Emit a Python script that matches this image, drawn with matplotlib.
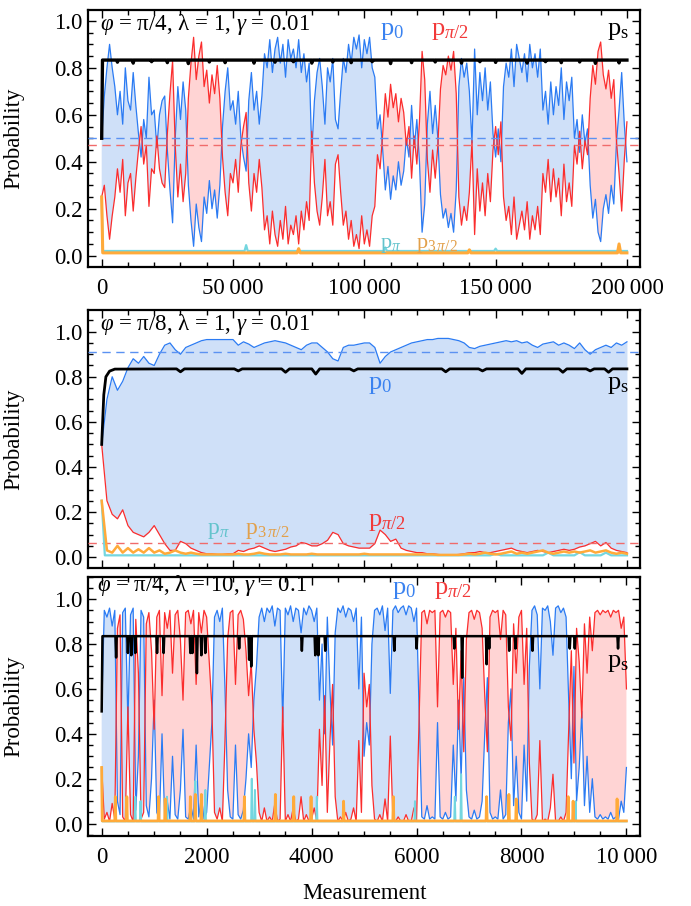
import numpy as np
import matplotlib
matplotlib.use("Agg")
import matplotlib.pyplot as plt
from matplotlib.ticker import MultipleLocator, FuncFormatter

plt.rcParams['font.family'] = ['Liberation Serif', 'DejaVu Serif']
plt.rcParams['mathtext.fontset'] = 'custom'
plt.rcParams['mathtext.rm'] = 'Liberation Serif'
plt.rcParams['mathtext.it'] = 'Liberation Serif:italic'
plt.rcParams['mathtext.bf'] = 'Liberation Serif:bold'

# ---------------- DATA ----------------
# Panel 1: phi=pi/4, lambda=1, gamma=0.01 ; samples every 1000 measurements
p1_step = 1000
p1_p0 = [0.50,0.68,0.80,0.90,0.80,0.72,0.60,0.70,0.56,0.80,0.66,0.62,0.78,0.64,0.52,0.42,0.58,0.50,0.76,0.60,
         0.62,0.46,0.60,0.66,0.68,0.45,0.28,0.14,0.50,0.72,0.58,0.74,0.62,0.30,0.15,0.04,0.22,0.12,0.06,0.25,
         0.18,0.32,0.20,0.28,0.16,0.30,0.55,0.70,0.80,0.62,0.66,0.56,0.70,0.50,0.42,0.36,0.66,0.78,0.62,0.70,
         0.56,0.68,0.86,0.80,0.92,0.78,0.88,0.93,0.82,0.90,0.76,0.92,0.84,0.88,0.80,0.92,0.78,0.86,0.74,0.82,
         0.44,0.66,0.78,0.84,0.72,0.56,0.80,0.74,0.84,0.58,0.54,0.70,0.84,0.78,0.90,0.82,0.93,0.88,0.94,0.80,
         0.92,0.86,0.93,0.80,0.76,0.54,0.60,0.45,0.28,0.38,0.24,0.34,0.28,0.40,0.30,0.36,0.50,0.42,0.64,0.46,
         0.58,0.40,0.10,0.22,0.56,0.70,0.52,0.64,0.50,0.26,0.16,0.20,0.12,0.18,0.10,0.28,0.72,0.84,0.76,0.82,
         0.70,0.48,0.88,0.60,0.78,0.66,0.80,0.62,0.74,0.52,0.42,0.54,0.40,0.72,0.82,0.76,0.88,0.72,0.90,0.84,
         0.78,0.86,0.74,0.90,0.80,0.86,0.76,0.88,0.62,0.70,0.56,0.74,0.60,0.72,0.64,0.80,0.58,0.74,0.66,0.76,
         0.50,0.58,0.44,0.60,0.48,0.54,0.30,0.16,0.24,0.10,0.06,0.20,0.26,0.18,0.30,0.22,0.48,0.62,0.78,0.56,
         0.40]
p1_ph = [0.25,0.30,0.17,0.07,0.17,0.25,0.37,0.27,0.41,0.17,0.31,0.35,0.19,0.33,0.45,0.55,0.39,0.47,0.21,0.37,
         0.35,0.51,0.37,0.31,0.29,0.52,0.69,0.83,0.47,0.25,0.39,0.23,0.35,0.67,0.82,0.93,0.75,0.85,0.91,0.72,
         0.79,0.65,0.77,0.69,0.81,0.67,0.42,0.27,0.17,0.35,0.31,0.41,0.27,0.47,0.55,0.61,0.31,0.19,0.35,0.27,
         0.41,0.29,0.11,0.17,0.05,0.19,0.09,0.04,0.15,0.07,0.21,0.05,0.13,0.09,0.17,0.05,0.19,0.11,0.23,0.15,
         0.53,0.31,0.19,0.13,0.25,0.41,0.17,0.23,0.13,0.39,0.43,0.27,0.13,0.19,0.07,0.15,0.04,0.09,0.03,0.17,
         0.05,0.11,0.04,0.17,0.21,0.43,0.37,0.52,0.69,0.59,0.73,0.63,0.69,0.57,0.67,0.61,0.47,0.55,0.33,0.51,
         0.39,0.57,0.87,0.75,0.41,0.27,0.45,0.33,0.47,0.71,0.81,0.77,0.85,0.79,0.87,0.69,0.25,0.13,0.21,0.15,
         0.27,0.49,0.09,0.37,0.19,0.31,0.17,0.35,0.23,0.45,0.55,0.43,0.57,0.25,0.15,0.21,0.09,0.25,0.07,0.13,
         0.19,0.11,0.23,0.07,0.17,0.11,0.21,0.09,0.35,0.27,0.41,0.23,0.37,0.25,0.33,0.17,0.39,0.23,0.31,0.21,
         0.47,0.39,0.53,0.37,0.49,0.43,0.67,0.81,0.73,0.87,0.91,0.77,0.71,0.79,0.67,0.75,0.49,0.35,0.19,0.41,
         0.57]
p1_ps_start_x = [0, 300]
p1_ps_start_y = [0.50, 0.833]
p1_ps_level = 0.833
p1_ps_dip_x = [6000, 12000, 19000, 25000, 33000, 41000, 47000, 58000, 66000, 73000, 80000, 88000,
               95000, 103000, 110000, 118000, 127000, 137000, 144000, 150000, 162000, 169000,
               175000, 182000, 188000, 197000]
p1_ps_dip_y = [0.824, 0.820, 0.826, 0.822, 0.818, 0.825, 0.822, 0.820, 0.824, 0.826, 0.820, 0.825,
               0.822, 0.826, 0.818, 0.822, 0.825, 0.820, 0.826, 0.823, 0.820, 0.826,
               0.822, 0.825, 0.819, 0.821]
p1_cy_start_y = [0.25, 0.020]
p1_cy_level = 0.020
p1_cy_sx = [55000, 108000, 150000, 197000]
p1_cy_sy = [0.045, 0.035, 0.030, 0.030]
p1_or_start_y = [0.25, 0.012]
p1_or_level = 0.012
p1_or_sx = [75000, 140000, 197000]
p1_or_sy = [0.030, 0.025, 0.050]
p1_mean_p0 = 0.50
p1_mean_ph = 0.47

# Panel 2: phi=pi/8, lambda=1, gamma=0.01 ; samples every 2000 measurements
p2_step = 2000
p2_p0 = [0.50,0.70,0.80,0.74,0.78,0.84,0.88,0.86,0.89,0.86,0.85,
         0.90,0.94,0.95,0.92,0.90,0.93,0.94,0.95,0.96,0.965,
         0.965,0.965,0.965,0.965,0.965,0.94,0.955,0.945,0.93,0.94,
         0.95,0.955,0.96,0.955,0.95,0.94,0.93,0.92,0.94,0.95,
         0.95,0.93,0.91,0.88,0.87,0.93,0.94,0.94,0.945,0.95,
         0.95,0.93,0.86,0.89,0.91,0.92,0.93,0.94,0.95,0.955,
         0.96,0.965,0.965,0.97,0.97,0.97,0.965,0.96,0.95,0.93,
         0.925,0.935,0.94,0.945,0.95,0.955,0.96,0.955,0.96,0.95,
         0.955,0.94,0.93,0.945,0.95,0.955,0.94,0.95,0.94,0.925,
         0.95,0.92,0.90,0.92,0.93,0.94,0.93,0.95,0.94,0.955]
p2_ph = [0.50,0.25,0.19,0.17,0.21,0.14,0.11,0.10,0.09,0.11,0.14,
         0.10,0.06,0.03,0.03,0.07,0.06,0.04,0.03,0.02,0.015,
         0.015,0.012,0.012,0.015,0.015,0.03,0.025,0.035,0.04,0.05,
         0.04,0.03,0.025,0.03,0.035,0.045,0.05,0.065,0.06,0.05,
         0.05,0.06,0.075,0.11,0.10,0.06,0.05,0.045,0.04,0.04,
         0.04,0.06,0.12,0.10,0.07,0.08,0.04,0.03,0.025,0.02,
         0.02,0.015,0.015,0.012,0.01,0.01,0.01,0.012,0.015,0.02,
         0.02,0.025,0.02,0.02,0.025,0.03,0.035,0.04,0.03,0.025,
         0.02,0.025,0.03,0.025,0.02,0.025,0.03,0.035,0.03,0.035,
         0.045,0.05,0.06,0.07,0.05,0.065,0.04,0.03,0.025,0.02]
p2_or = [0.25,0.03,0.02,0.05,0.02,0.04,0.02,0.035,0.02,0.04,0.02,
         0.03,0.015,0.02,0.03,0.02,0.015,0.02,0.015,0.012,0.012,
         0.012,0.012,0.012,0.012,0.012,0.015,0.012,0.012,0.015,0.02,
         0.015,0.012,0.012,0.012,0.015,0.012,0.012,0.012,0.012,0.015,
         0.012,0.012,0.012,0.012,0.012,0.012,0.012,0.012,0.012,0.015,
         0.012,0.012,0.012,0.012,0.012,0.012,0.012,0.012,0.012,0.012,
         0.012,0.012,0.012,0.01,0.01,0.01,0.01,0.01,0.012,0.015,
         0.012,0.015,0.02,0.015,0.012,0.015,0.02,0.025,0.015,0.02,
         0.015,0.02,0.025,0.03,0.02,0.015,0.02,0.025,0.02,0.025,
         0.02,0.025,0.03,0.02,0.025,0.03,0.02,0.015,0.02,0.015]
p2_ps_start_x = [0, 800, 1600, 3000, 5000]
p2_ps_start_y = [0.50, 0.72, 0.80, 0.825, 0.834]
p2_ps_level = 0.835
p2_ps_dip_x = [30000, 52000, 70000, 81500, 96000, 131000, 145000, 160000, 175600, 186000, 193000]
p2_ps_dip_y = [0.822, 0.826, 0.820, 0.812, 0.826, 0.822, 0.826, 0.815, 0.820, 0.826, 0.820]
p2_cy_start_y = [0.25, 0.008]
p2_cy_level = 0.008
p2_cy_sx = [150000, 170000, 182000, 192000]
p2_cy_sy = [0.015, 0.02, 0.022, 0.02]
p2_mean_p0 = 0.91
p2_mean_ph = 0.063

# Panel 3: phi=pi/4, lambda=10, gamma=0.1 ; samples every 50 measurements
p3_step = 50
p3_p0 = [0.50,0.95,0.92,0.96,0.88,0.95,0.10,0.04,0.94,0.96,0.45,0.93,0.96,0.06,0.30,0.95,0.92,0.08,0.03,0.20,
         0.55,0.05,0.02,0.40,0.03,0.10,0.02,0.30,0.04,0.02,0.15,0.42,0.03,0.02,0.08,0.02,0.35,0.03,0.12,0.02,
         0.05,0.25,0.45,0.92,0.95,0.90,0.96,0.60,0.15,0.03,0.02,0.35,0.04,0.02,0.06,0.20,0.40,0.25,0.55,0.70,
         0.92,0.96,0.90,0.96,0.94,0.97,0.88,0.96,0.95,0.45,0.96,0.93,0.97,0.90,0.96,0.95,0.85,0.96,0.93,0.97,
         0.95,0.90,0.96,0.55,0.80,0.40,0.92,0.60,0.35,0.85,0.96,0.94,0.97,0.92,0.96,0.95,0.90,0.96,0.60,0.92,
         0.30,0.45,0.35,0.80,0.95,0.96,0.93,0.97,0.86,0.96,0.58,0.95,0.97,0.94,0.96,0.97,0.93,0.97,0.96,0.90,
         0.96,0.50,0.03,0.02,0.08,0.02,0.03,0.02,0.45,0.03,0.02,0.05,0.02,0.03,0.35,0.10,0.55,0.20,0.65,0.15,
         0.03,0.02,0.06,0.02,0.03,0.10,0.40,0.65,0.05,0.02,0.03,0.02,0.15,0.02,0.04,0.45,0.60,0.08,0.30,0.05,
         0.02,0.35,0.10,0.70,0.95,0.97,0.93,0.60,0.96,0.95,0.97,0.90,0.75,0.96,0.97,0.94,0.96,0.92,0.55,0.20,
         0.70,0.10,0.25,0.50,0.08,0.30,0.05,0.20,0.03,0.02,0.04,0.02,0.03,0.02,0.05,0.02,0.03,0.02,0.10,0.05,
         0.25]
p3_ph = [0.25,0.02,0.05,0.01,0.09,0.02,0.87,0.93,0.03,0.01,0.52,0.04,0.01,0.91,0.67,0.02,0.05,0.89,0.94,0.77,
         0.42,0.92,0.95,0.57,0.94,0.87,0.95,0.67,0.93,0.95,0.82,0.55,0.94,0.95,0.89,0.95,0.62,0.94,0.85,0.95,
         0.92,0.72,0.52,0.05,0.02,0.07,0.01,0.37,0.82,0.94,0.95,0.62,0.93,0.95,0.91,0.77,0.57,0.72,0.42,0.27,
         0.05,0.01,0.07,0.01,0.03,0.01,0.09,0.01,0.02,0.52,0.01,0.04,0.01,0.07,0.01,0.02,0.12,0.01,0.04,0.01,
         0.02,0.07,0.01,0.42,0.17,0.57,0.05,0.37,0.62,0.12,0.01,0.03,0.01,0.05,0.01,0.02,0.07,0.01,0.37,0.05,
         0.67,0.52,0.62,0.17,0.02,0.01,0.04,0.01,0.11,0.01,0.39,0.02,0.01,0.03,0.01,0.01,0.04,0.01,0.01,0.07,
         0.01,0.47,0.94,0.95,0.89,0.95,0.94,0.95,0.52,0.94,0.95,0.92,0.95,0.94,0.62,0.87,0.42,0.77,0.32,0.82,
         0.94,0.95,0.91,0.95,0.94,0.87,0.57,0.32,0.92,0.95,0.94,0.95,0.82,0.95,0.93,0.52,0.37,0.89,0.67,0.92,
         0.95,0.62,0.87,0.27,0.02,0.01,0.04,0.37,0.01,0.02,0.01,0.07,0.22,0.01,0.01,0.03,0.01,0.05,0.42,0.77,
         0.27,0.87,0.72,0.47,0.89,0.67,0.92,0.77,0.94,0.95,0.93,0.95,0.94,0.95,0.92,0.95,0.94,0.95,0.87,0.92,
         0.60]
p3_ps_start_x = [0, 15]
p3_ps_start_y = [0.50, 0.835]
p3_ps_level = 0.835
p3_ps_dip_x = [275, 500, 565, 640, 1055, 1180, 1690, 1730, 1815, 1900, 1975, 2620, 2810, 2850,
               3815, 4070, 4130, 4260, 5577, 6002, 6720, 6870, 7335, 7385, 7766, 7886, 8210,
               8920, 9016, 9840]
p3_ps_dip_y = [0.74, 0.76, 0.75, 0.76, 0.76, 0.76, 0.76, 0.76, 0.67, 0.75, 0.76, 0.78, 0.73, 0.70,
               0.77, 0.75, 0.75, 0.77, 0.77, 0.78, 0.78, 0.65, 0.71, 0.78, 0.77, 0.78, 0.77,
               0.78, 0.78, 0.78]
p3_or_start_y = [0.25, 0.012]
p3_or_level = 0.012
p3_or_sx = [260, 480, 1085, 1210, 1690, 1785, 1900, 2720, 3310, 3660, 3990, 4610, 5558,
            7335, 7760, 7900, 8890, 8984, 9822]
p3_or_sy = [0.12, 0.12, 0.12, 0.11, 0.12, 0.13, 0.13, 0.12, 0.13, 0.12, 0.12, 0.10, 0.12,
            0.12, 0.13, 0.11, 0.12, 0.10, 0.11]
p3_cy_start_y = [0.25, 0.010]
p3_cy_level = 0.010
p3_cy_sx = [640, 740, 1245, 1785, 1975, 2860, 2920, 4100, 5970, 6730, 6850, 7335, 9030]
p3_cy_sy = [0.12, 0.10, 0.12, 0.19, 0.15, 0.20, 0.15, 0.12, 0.10, 0.12, 0.22, 0.12, 0.10]

# ---------------- STYLE ----------------
BLUE = '#2b7bf3'
RED = '#fb2d2d'
CYAN = '#74d6df'
ORANGE = '#ffaa3a'
FILL_B = '#cfe0f8'
FILL_R = '#ffd4d4'
T_BLUE = '#3a82f0'
T_RED = '#f23a3a'
T_CYAN = '#62c3cc'
T_ORANGE = '#e2a04a'
FS_TICK = 16.5
FS_LAB = 19


def spiky(start_x, start_y, level, sx, sy, hw, xmax):
    xs = list(start_x)
    ys = list(start_y)
    for x, y in zip(sx, sy):
        xs += [x - hw, x, x + hw]
        ys += [level, y, level]
    xs.append(xmax)
    ys.append(level)
    return np.array(xs, float), np.array(ys, float)


def thin_fmt(v, pos):
    v = int(round(v))
    if v >= 10000:
        return f"{v:,}".replace(",", "\u2009")
    return str(v)


def style(ax, xlim, ylim, xmaj, xmin, labels=True):
    ax.set_xlim(*xlim)
    ax.set_ylim(*ylim)
    ax.xaxis.set_major_locator(MultipleLocator(xmaj))
    ax.xaxis.set_minor_locator(MultipleLocator(xmin))
    ax.yaxis.set_major_locator(MultipleLocator(0.2))
    ax.yaxis.set_minor_locator(MultipleLocator(0.05))
    ax.xaxis.set_major_formatter(FuncFormatter(thin_fmt))
    ax.yaxis.set_major_formatter(FuncFormatter(lambda v, p: f"{v:.1f}"))
    ax.tick_params(which='both', direction='in', top=True, right=True, width=1.0,
                   labelsize=FS_TICK)
    ax.tick_params(which='major', length=6)
    ax.tick_params(which='minor', length=3.5)
    ax.tick_params(axis='x', pad=8, labelbottom=labels)
    ax.tick_params(axis='y', pad=4)
    for s in ax.spines.values():
        s.set_linewidth(1.6)
    ax.set_ylabel('Probability', fontsize=FS_TICK)
    ax.yaxis.set_label_coords(-0.116, 0.5)


def draw_main(ax, x, p0, ph):
    p0 = np.asarray(p0, float)
    ph = np.asarray(ph, float)
    ax.fill_between(x, p0, ph, where=p0 >= ph, interpolate=True, color=FILL_B, lw=0, zorder=1)
    ax.fill_between(x, p0, ph, where=p0 < ph, interpolate=True, color=FILL_R, lw=0, zorder=1)
    ax.plot(x, p0, color=BLUE, lw=0.9, zorder=3)
    ax.plot(x, ph, color=RED, lw=0.9, zorder=3)


fig = plt.figure(figsize=(6.91, 9.06), dpi=100)
L, W = 0.1274, 0.7989
ax1 = fig.add_axes([L, 0.7056, W, 0.2833])
ax2 = fig.add_axes([L, 0.3736, W, 0.2842])
ax3 = fig.add_axes([L, 0.0778, W, 0.2857])

lab_p0 = r'$\mathrm{p}_{0}$'
lab_ph = r'$\mathrm{p}_{\pi/2}$'
lab_pp = r'$\mathrm{p}_{\pi}$'
lab_p3 = r'$\mathrm{p}_{3\,\pi/2}$'
lab_ps = r'$\mathrm{p}_{\mathrm{s}}$'

# ---- panel 1
x1 = np.arange(len(p1_p0)) * p1_step
X1 = x1[-1]
draw_main(ax1, x1, p1_p0, p1_ph)
ax1.axhline(p1_mean_p0, color='#5b92f2', lw=1.0, ls=(0, (6, 4)), zorder=4)
ax1.axhline(p1_mean_ph, color='#f06b6b', lw=1.0, ls=(0, (6, 4)), zorder=4)
cx, cy = spiky([0, 400], p1_cy_start_y, p1_cy_level, p1_cy_sx, p1_cy_sy, 600, X1)
ax1.plot(cx, cy, color=CYAN, lw=1.6, zorder=5)
ox, oy = spiky([0, 400], p1_or_start_y, p1_or_level, p1_or_sx, p1_or_sy, 600, X1)
ax1.plot(ox, oy, color=ORANGE, lw=2.2, zorder=6)
sx, sy = spiky(p1_ps_start_x, p1_ps_start_y, p1_ps_level, p1_ps_dip_x, p1_ps_dip_y, 300, X1)
ax1.plot(sx, sy, color='black', lw=2.4, zorder=7)
style(ax1, (-5200, 205000), (-0.047, 1.046), 50000, 10000, labels=True)
ax1.text(-600, 0.985, r'$\varphi$ = π/4, λ = 1, $\gamma$ = 0.01', fontsize=FS_TICK,
         ha='left', va='center', zorder=10)
ax1.text(110700, 0.955, lab_p0, color=T_BLUE, fontsize=FS_LAB, ha='center', va='center', zorder=10)
ax1.text(132500, 0.955, lab_ph, color=T_RED, fontsize=FS_LAB, ha='center', va='center', zorder=10)
ax1.text(200800, 0.955, lab_ps, color='black', fontsize=FS_LAB, ha='right', va='center', zorder=10)
ax1.text(110000, 0.045, lab_pp, color=T_CYAN, fontsize=16, ha='center', va='center', zorder=10)
ax1.text(127500, 0.045, lab_p3, color=T_ORANGE, fontsize=16, ha='center', va='center', zorder=10)

# ---- panel 2
x2 = np.arange(len(p2_p0)) * p2_step
X2 = x2[-1]
draw_main(ax2, x2, p2_p0, p2_ph)
ax2.axhline(p2_mean_p0, color='#5b92f2', lw=1.0, ls=(0, (6, 4)), zorder=4)
ax2.axhline(p2_mean_ph, color='#f06b6b', lw=1.0, ls=(0, (6, 4)), zorder=4)
cx, cy = spiky([0, 1200], p2_cy_start_y, p2_cy_level, p2_cy_sx, p2_cy_sy, 2000, X2)
ax2.plot(cx, cy, color=CYAN, lw=1.6, zorder=5)
ax2.plot(x2, p2_or, color=ORANGE, lw=1.8, zorder=6)
sx, sy = spiky(p2_ps_start_x, p2_ps_start_y, p2_ps_level, p2_ps_dip_x, p2_ps_dip_y, 1500, X2)
ax2.plot(sx, sy, color='black', lw=2.0, zorder=7)
style(ax2, (-5200, 205000), (-0.046, 1.096), 50000, 10000, labels=False)
ax2.text(-600, 1.03, r'$\varphi$ = π/8, λ = 1, $\gamma$ = 0.01', fontsize=FS_TICK,
         ha='left', va='center', zorder=10)
ax2.text(106000, 0.765, lab_p0, color=T_BLUE, fontsize=FS_LAB, ha='center', va='center', zorder=10)
ax2.text(200800, 0.765, lab_ps, color='black', fontsize=FS_LAB, ha='right', va='center', zorder=10)
ax2.text(44600, 0.12, lab_pp, color=T_CYAN, fontsize=17, ha='center', va='center', zorder=10)
ax2.text(63000, 0.12, lab_p3, color=T_ORANGE, fontsize=17, ha='center', va='center', zorder=10)
ax2.text(108800, 0.155, lab_ph, color=T_RED, fontsize=FS_LAB, ha='center', va='center', zorder=10)

# ---- panel 3
x3 = np.arange(len(p3_p0)) * p3_step
X3 = x3[-1]
draw_main(ax3, x3, p3_p0, p3_ph)
cx, cy = spiky([0, 10], p3_cy_start_y, p3_cy_level, p3_cy_sx, p3_cy_sy, 12, X3)
ax3.plot(cx, cy, color=CYAN, lw=1.4, zorder=5)
ox, oy = spiky([0, 10], p3_or_start_y, p3_or_level, p3_or_sx, p3_or_sy, 10, X3)
ax3.plot(ox, oy, color=ORANGE, lw=2.0, zorder=6)
sx, sy = spiky(p3_ps_start_x, p3_ps_start_y, p3_ps_level, p3_ps_dip_x, p3_ps_dip_y, 12, X3)
ax3.plot(sx, sy, color='black', lw=1.8, zorder=7)
style(ax3, (-260, 10260), (-0.053, 1.10), 2000, 500, labels=True)
ax3.text(-80, 1.062, r'$\varphi$ = π/4, λ = 10, $\gamma$ = 0.1', fontsize=FS_TICK,
         ha='left', va='center', zorder=10)
ax3.text(5760, 1.04, lab_p0, color=T_BLUE, fontsize=FS_LAB, ha='center', va='center', zorder=10)
ax3.text(6700, 1.04, lab_ph, color=T_RED, fontsize=FS_LAB, ha='center', va='center', zorder=10)
ax3.text(10040, 0.715, lab_ps, color='black', fontsize=FS_LAB, ha='right', va='center', zorder=10)

fig.text(0.527, 0.0143, 'Measurement', fontsize=FS_TICK, ha='center', va='center')

fig.savefig('out.png', dpi=100)
